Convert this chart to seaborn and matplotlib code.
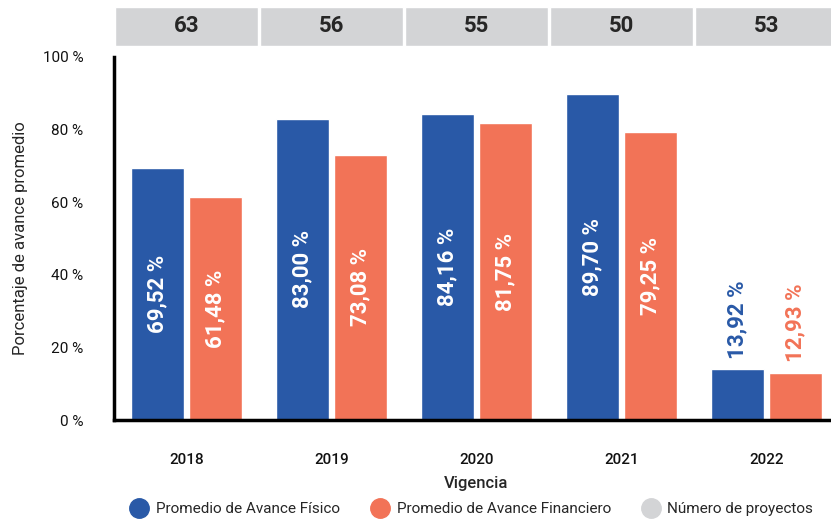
import numpy as np
import pandas as pd
import seaborn as sns
import matplotlib.pyplot as plt
from matplotlib.lines import Line2D

# datos
vigencias = ['2018', '2019', '2020', '2021', '2022']
avance_fisico = [69.52, 83.00, 84.16, 89.70, 13.92]
avance_financiero = [61.48, 73.08, 81.75, 79.25, 12.93]
num_proyectos = [63, 56, 55, 50, 53]
series = ['Promedio de Avance Físico', 'Promedio de Avance Financiero']

AZUL = '#2959A7'
NARANJA = '#F27357'
GRIS = '#D3D4D6'

df = pd.DataFrame({
    'Vigencia': vigencias * 2,
    'valor': avance_fisico + avance_financiero,
    'serie': [series[0]] * 5 + [series[1]] * 5,
})
df_proy = pd.DataFrame({'Vigencia': vigencias, 'n': num_proyectos, 'h': [1] * 5})

sns.set_style('white')
plt.rcParams['font.family'] = ['Roboto', 'DejaVu Sans']

W, H = 831, 527
fig = plt.figure(figsize=(W / 100, H / 100), dpi=100)
# eje principal (px: x 114-839, y 57-420)
ax = fig.add_axes([114 / W, (H - 420) / H, 725 / W, 363 / H])
sns.barplot(data=df, x='Vigencia', y='valor', hue='serie',
            palette=[AZUL, NARANJA], width=0.8, gap=0.086,
            saturation=1, ax=ax, legend=False)
ax.set_xlim(-0.5, 4.5)
ax.set_ylim(0, 100)
ax.set_yticks([0, 20, 40, 60, 80, 100])
ax.set_yticklabels([f'{v} %' for v in range(0, 101, 20)])
for s in ['top', 'right']:
    ax.spines[s].set_visible(False)
for s in ['left', 'bottom']:
    ax.spines[s].set_linewidth(2.5)
    ax.spines[s].set_color('black')
ax.tick_params(axis='y', length=10, width=1.5, color='#444444', pad=12,
               labelsize=11, labelcolor='#111111')
ax.tick_params(axis='x', which='major', length=0, pad=24, labelsize=11,
               labelcolor='#111111')
ax.set_xticks([0.5, 1.5, 2.5, 3.5], minor=True)
ax.tick_params(axis='x', which='minor', length=10, width=1.5, color='#444444')
for lab in ax.get_xticklabels():
    lab.set_fontweight('medium')
ax.set_xlabel('Vigencia', fontsize=12, labelpad=6, fontweight='medium')
ax.set_ylabel('Porcentaje de avance promedio', fontsize=12)
ax.yaxis.set_label_coords(-0.118, 0.5)

# etiquetas de valor
for cont, vals, col in zip(ax.containers, [avance_fisico, avance_financiero], [AZUL, NARANJA]):
    for bar, v in zip(cont, vals):
        x = bar.get_x() + bar.get_width() / 2
        txt = f'{v:.2f} %'.replace('.', ',')
        if v > 30:
            ax.text(x, bar.get_height() / 2, txt, rotation=90, ha='center', va='center',
                    color='white', fontsize=16, fontweight='bold')
        else:
            ax.text(x, bar.get_height() + 3, txt, rotation=90, ha='center', va='bottom',
                    color=col, fontsize=16, fontweight='bold')

# cabecera con número de proyectos (px: y 7-46)
hx = fig.add_axes([114 / W, (H - 46) / H, 725 / W, 39 / H])
sns.barplot(data=df_proy, x='Vigencia', y='h', color=GRIS, width=0.98,
            saturation=1, ax=hx)
hx.set_xlim(-0.5, 4.5)
hx.set_ylim(0, 1)
hx.axis('off')
for i, n in enumerate(num_proyectos):
    hx.text(i, 0.5, str(n), ha='center', va='center', fontsize=16, fontweight='bold')

# leyenda
handles = [Line2D([], [], marker='o', linestyle='', markersize=14, color=c)
           for c in [AZUL, NARANJA, GRIS]]
fig.legend(handles, series + ['Número de proyectos'], loc='lower center',
           bbox_to_anchor=(0.564, -0.005), ncol=3, frameon=False, fontsize=11,
           handletextpad=0.1, columnspacing=1.6)

fig.savefig('out.png', dpi=100)
